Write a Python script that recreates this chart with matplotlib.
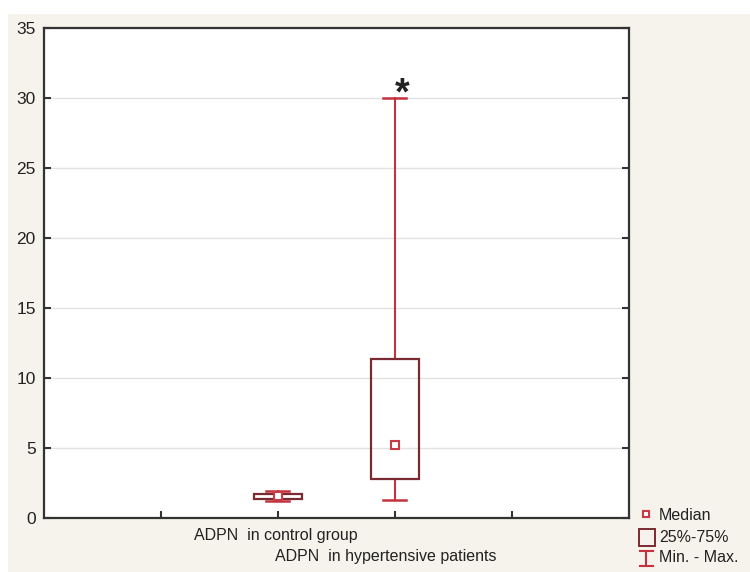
import matplotlib
matplotlib.use("Agg")
import matplotlib.pyplot as plt
from matplotlib.patches import Rectangle
from matplotlib.lines import Line2D

plt.rcParams['font.family'] = ['Liberation Sans', 'DejaVu Sans']

# data
groups = ["ADPN  in control group", "ADPN  in hypertensive patients"]
positions = [2, 3]
q1 = [1.35, 2.75]
q3 = [1.68, 11.32]
medians = [1.52, 5.2]
mins = [1.2, 1.27]
maxs = [1.87, 30.0]
yticks = [0, 5, 10, 15, 20, 25, 30, 35]

box_col = "#7a2a30"
whisk_col = "#c4323e"
med_col = "#c83a44"
bg = "#f6f3ec"

W, H = 750, 572
fig = plt.figure(figsize=(W / 100, H / 100), dpi=100, facecolor="white")
fig.add_artist(Rectangle((8 / W, 0), 1 - 8 / W, (H - 14) / H,
                         transform=fig.transFigure, facecolor=bg,
                         edgecolor="none", zorder=-10))

ax = fig.add_axes([44 / W, (H - 517.5) / H, (628.5 - 44) / W, (517.5 - 28.3) / H])
ax.set_facecolor("white")
ax.set_xlim(0, 5)
ax.set_ylim(0, 35)

bw = 0.41
cw = 0.2
for p, a, b, m, lo, hi in zip(positions, q1, q3, medians, mins, maxs):
    ax.plot([p, p], [b, hi], color=whisk_col, lw=1.5, zorder=3)
    ax.plot([p, p], [lo, a], color=whisk_col, lw=1.5, zorder=3)
    ax.plot([p - cw / 2, p + cw / 2], [hi, hi], color=whisk_col, lw=1.8, zorder=3)
    ax.plot([p - cw / 2, p + cw / 2], [lo, lo], color=whisk_col, lw=1.8, zorder=3)
    ax.add_patch(Rectangle((p - bw / 2, a), bw, b - a, facecolor="none",
                           edgecolor=box_col, lw=1.6, zorder=4))
    ax.plot([p], [m], marker="s", ms=5.5, mfc="white", mec=med_col, mew=1.5, zorder=5)

ax.text(positions[1] + 0.06, maxs[1] + 0.3, "*", fontsize=27, fontweight="bold",
        ha="center", va="center", color="#222222")

ax.set_yticks(yticks)
ax.set_xticks([1, 2, 3, 4])
ax.set_xticklabels([])
ax.grid(axis="y", color="#e2e2e2", lw=1)
ax.set_axisbelow(True)
ax.tick_params(axis="y", direction="in", length=5, width=1.5, labelsize=12.5,
               pad=6, right=True, colors="#333333", labelcolor="#222222")
ax.tick_params(axis="x", direction="in", length=5, width=1.5, colors="#333333")
for s in ax.spines.values():
    s.set_color("#333333")
    s.set_linewidth(1.6)

# staggered category labels
ax.text(positions[0] - 0.02, -0.022, groups[0], transform=ax.get_xaxis_transform(),
        ha="center", va="top", fontsize=11.5, color="#222222")
ax.text(positions[1] - 0.08, -0.065, groups[1], transform=ax.get_xaxis_transform(),
        ha="center", va="top", fontsize=11.5, color="#222222")

# legend drawn by hand
def px(x, y):
    return x / W, 1 - y / H

fig.add_artist(Line2D(*zip(px(646, 514), px(646, 514)), marker="s", ms=5, mfc="white",
                      mec=med_col, mew=1.5, transform=fig.transFigure))
fig.add_artist(Rectangle(px(639, 546), 16 / W, 17 / H, transform=fig.transFigure,
                         facecolor="none", edgecolor=box_col, lw=1.4))
fig.add_artist(Line2D([px(646, 551)[0]] * 2, [px(0, 551)[1], px(0, 566)[1]],
                      color=whisk_col, lw=1.5, transform=fig.transFigure))
for yy in (551, 566):
    fig.add_artist(Line2D([px(640, 0)[0], px(653, 0)[0]], [px(0, yy)[1]] * 2,
                          color=whisk_col, lw=1.5, transform=fig.transFigure))
for label, yy in (("Median", 515), ("25%-75%", 537), ("Min. - Max.", 558)):
    fig.text(*px(659, yy), label, fontsize=11.5, va="center", ha="left", color="#222222")

fig.savefig("out.png", dpi=100, facecolor=fig.get_facecolor())
